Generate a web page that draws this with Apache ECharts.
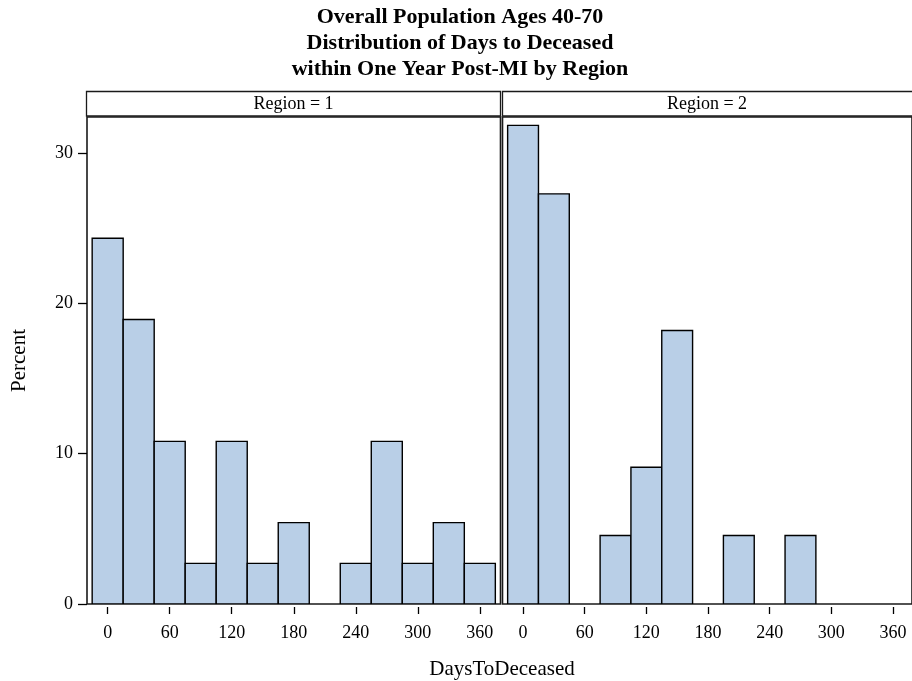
<!DOCTYPE html>
<html>
<head>
<meta charset="utf-8">
<script src="https://cdn.jsdelivr.net/npm/echarts@6/dist/echarts.min.js"></script>
<style>
  html, body { margin: 0; padding: 0; background: #fff; }
  #chart { width: 912px; height: 681px; }
</style>
</head>
<body>
<div id="chart"></div>
<script>
// ---- Data ----
const titleLines = ['Overall Population Ages 40-70', 'Distribution of Days to Deceased', 'within One Year Post-MI by Region'];
const panelLabels = ['Region = 1', 'Region = 2'];
const xTickValues = [0, 60, 120, 180, 240, 300, 360];
const yTickValues = [0, 10, 20, 30];
const binWidth = 30;
const binCenters = [0, 30, 60, 90, 120, 150, 180, 210, 240, 270, 300, 330, 360];
const region1Pct = [24.32, 18.92, 10.81, 2.70, 10.81, 2.70, 5.41, 0, 2.70, 10.81, 2.70, 5.41, 2.70];
const region2Pct = [31.82, 27.27, 0, 4.55, 9.09, 18.18, 0, 4.55, 0, 4.55, 0, 0, 0];

const FONT = 'Liberation Serif';
const BAR_FILL = '#b9cfe7';
const FRAME = '#1a1a1a';

const chart = echarts.init(document.getElementById('chart'), null, { renderer: 'canvas' });

function renderBin(params, api) {
  const c = api.value(0);
  const v = api.value(1);
  if (!v) return null;
  const p1 = api.coord([c - binWidth / 2, v]);
  const p2 = api.coord([c + binWidth / 2, 0]);
  return {
    type: 'rect',
    shape: { x: p1[0], y: p1[1], width: p2[0] - p1[0], height: p2[1] - p1[1] },
    style: { fill: BAR_FILL, stroke: '#000', lineWidth: 1.4 }
  };
}

function xAxisCfg(gridIndex, max) {
  return {
    type: 'value', gridIndex: gridIndex, min: -20, max: max,
    position: 'bottom', offset: 3,
    axisLine: { show: false, onZero: false },
    axisTick: { show: true, length: 7, lineStyle: { color: '#000', width: 1.3 }, customValues: xTickValues },
    axisLabel: { show: true, margin: 17, color: '#000', fontFamily: FONT, fontSize: 18, customValues: xTickValues },
    splitLine: { show: false }
  };
}

const option = {
  backgroundColor: '#fff',
  animation: false,
  title: {
    text: titleLines.join('\n'),
    left: 460, top: 4, padding: 0, textAlign: 'center',
    textStyle: { fontFamily: FONT, fontWeight: 'bold', fontSize: 22, lineHeight: 26, color: '#000' }
  },
  grid: [
    { left: 87, top: 117, width: 413.5, height: 487, show: true, borderColor: FRAME, borderWidth: 1.6, backgroundColor: 'transparent', containLabel: false },
    { left: 502.5, top: 117, width: 412, height: 487, show: true, borderColor: FRAME, borderWidth: 1.6, backgroundColor: 'transparent', containLabel: false }
  ],
  xAxis: [xAxisCfg(0, 380), xAxisCfg(1, 378.55)],
  yAxis: [
    {
      type: 'value', gridIndex: 0, min: 0, max: 32.38, position: 'left',
      name: 'Percent', nameLocation: 'middle', nameRotate: 90, nameGap: 57,
      nameTextStyle: { fontFamily: FONT, fontSize: 21, color: '#000' },
      axisLine: { show: false, onZero: false },
      axisTick: { show: true, length: 9, lineStyle: { color: '#000', width: 1.3 }, customValues: yTickValues },
      axisLabel: { show: true, margin: 14, color: '#000', fontFamily: FONT, fontSize: 18, customValues: yTickValues },
      splitLine: { show: false }
    },
    {
      type: 'value', gridIndex: 1, min: 0, max: 32.38, show: false,
      axisLine: { onZero: false },
      splitLine: { show: false }
    }
  ],
  series: [
    { type: 'custom', name: panelLabels[0], xAxisIndex: 0, yAxisIndex: 0, clip: true, renderItem: renderBin,
      encode: { x: 0, y: 1 }, data: binCenters.map((c, i) => [c, region1Pct[i]]) },
    { type: 'custom', name: panelLabels[1], xAxisIndex: 1, yAxisIndex: 1, clip: true, renderItem: renderBin,
      encode: { x: 0, y: 1 }, data: binCenters.map((c, i) => [c, region2Pct[i]]) }
  ],
  graphic: [
    { type: 'rect', shape: { x: 86.5, y: 91.5, width: 414, height: 24.5 }, style: { fill: '#fff', stroke: FRAME, lineWidth: 1.3 }, z: 10 },
    { type: 'rect', shape: { x: 502.5, y: 91.5, width: 420, height: 24.5 }, style: { fill: '#fff', stroke: FRAME, lineWidth: 1.3 }, z: 10 },
    { type: 'text', x: 293.5, y: 104, style: { text: panelLabels[0], font: '18px "Liberation Serif"', fill: '#000', textAlign: 'center', textVerticalAlign: 'middle' }, z: 11 },
    { type: 'text', x: 707, y: 104, style: { text: panelLabels[1], font: '18px "Liberation Serif"', fill: '#000', textAlign: 'center', textVerticalAlign: 'middle' }, z: 11 },
    { type: 'text', x: 502, y: 669, style: { text: 'DaysToDeceased', font: '21px "Liberation Serif"', fill: '#000', textAlign: 'center', textVerticalAlign: 'middle' }, z: 11 }
  ]
};

chart.setOption(option);
</script>
</body>
</html>
